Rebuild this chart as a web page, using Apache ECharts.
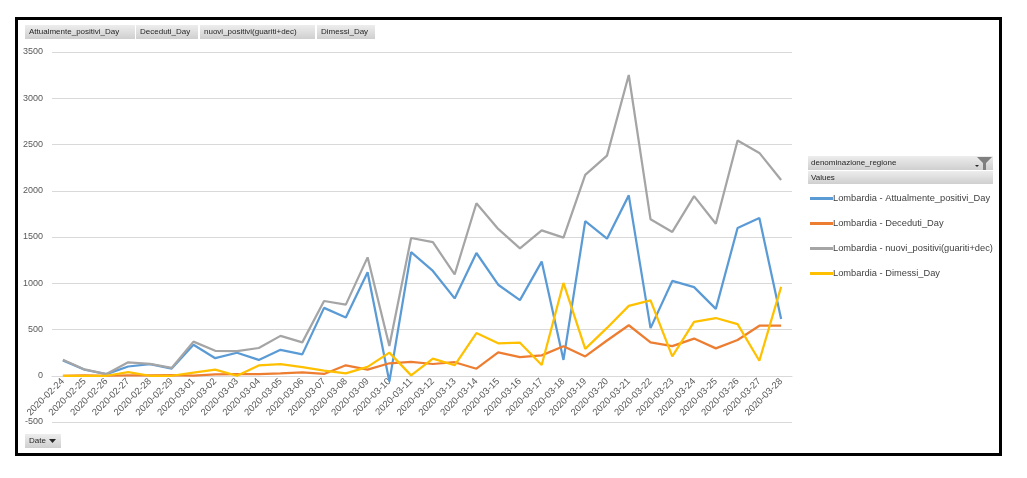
<!DOCTYPE html>
<html>
<head>
<meta charset="utf-8">
<script src="https://cdn.jsdelivr.net/npm/echarts@6/dist/echarts.min.js"></script>
<style>
  html, body { margin: 0; padding: 0; background: #fff; }
  #chart { width: 1027px; height: 478px; }
</style>
</head>
<body>
<div id="chart"></div>
<script>
var dates = ['2020-02-24','2020-02-25','2020-02-26','2020-02-27','2020-02-28','2020-02-29',
  '2020-03-01','2020-03-02','2020-03-03','2020-03-04','2020-03-05','2020-03-06','2020-03-07',
  '2020-03-08','2020-03-09','2020-03-10','2020-03-11','2020-03-12','2020-03-13','2020-03-14',
  '2020-03-15','2020-03-16','2020-03-17','2020-03-18','2020-03-19','2020-03-20','2020-03-21',
  '2020-03-22','2020-03-23','2020-03-24','2020-03-25','2020-03-26','2020-03-27','2020-03-28'];

var attualmente = [166,65,18,100,125,78,335,190,249,171,280,231,734,630,1118,-63,1336,1133,836,1327,
  984,818,1234,171,1672,1482,1950,515,1025,958,723,1598,1706,614];
var deceduti = [0,3,0,5,3,6,1,14,17,18,25,37,19,113,66,135,149,127,146,76,
  252,202,220,319,209,381,546,361,320,402,296,387,541,542];
var nuovi = [172,68,18,145,128,84,369,270,266,300,431,361,808,769,1280,322,1489,1445,1095,1865,
  1587,1377,1571,1493,2171,2380,3251,1691,1555,1942,1643,2543,2409,2117];
var dimessi = [0,0,0,40,0,0,33,66,0,111,126,93,55,26,96,250,4,185,113,462,
  351,357,117,1003,290,517,755,815,210,582,624,558,162,961];

var seriesNames = ['Lombardia - Attualmente_positivi_Day','Lombardia - Deceduti_Day',
  'Lombardia - nuovi_positivi(guariti+dec)','Lombardia - Dimessi_Day'];
var fieldButtons = ['Attualmente_positivi_Day','Deceduti_Day','nuovi_positivi(guariti+dec)','Dimessi_Day'];
var colors = ['#5B9BD5','#ED7D31','#A5A5A5','#FFC000'];

var font = "'Liberation Sans', Arial, sans-serif";
var btnFill = new echarts.graphic.LinearGradient(0, 0, 0, 1, [
  {offset: 0, color: '#EDEDED'}, {offset: 1, color: '#CFCFCF'}]);

// pivot field buttons across the top
var btnX = [25, 136, 200, 317], btnW = [110, 62, 115, 58];
var graphics = [];
fieldButtons.forEach(function(t, i){
  graphics.push({type:'rect', shape:{x:btnX[i], y:25, width:btnW[i], height:14},
    style:{fill:btnFill, stroke:'none'}});
  graphics.push({type:'text', x:btnX[i]+4, y:32,
    style:{text:t, fill:'#262626', font:'8px ' + font, textVerticalAlign:'middle'}});
});
// Date button
graphics.push({type:'rect', shape:{x:25, y:434, width:36, height:14}, style:{fill:btnFill}});
graphics.push({type:'text', x:29, y:441, style:{text:'Date', fill:'#262626', font:'8px ' + font, textVerticalAlign:'middle'}});
graphics.push({type:'polygon', shape:{points:[[49,439],[56,439],[52.5,443]]}, style:{fill:'#262626'}});
// legend header bars
graphics.push({type:'rect', shape:{x:808, y:156, width:185, height:14}, style:{fill:btnFill}});
graphics.push({type:'text', x:811, y:163, style:{text:'denominazione_regione', fill:'#262626', font:'8px ' + font, textVerticalAlign:'middle'}});
graphics.push({type:'polygon', shape:{points:[[975,165],[979,165],[977,167]]}, style:{fill:'#262626'}});
graphics.push({type:'polygon', shape:{points:[[977,157],[992,157],[986,163],[986,170],[983,170],[983,163]]}, style:{fill:'#7F7F7F'}});
graphics.push({type:'rect', shape:{x:808, y:171, width:185, height:13}, style:{fill:btnFill}});
graphics.push({type:'text', x:811, y:177.5, style:{text:'Values', fill:'#262626', font:'8px ' + font, textVerticalAlign:'middle'}});
// outer frame
graphics.push({type:'rect', shape:{x:16.5, y:18.5, width:984, height:436},
  style:{fill:'none', stroke:'#000', lineWidth:3}});

var chart = echarts.init(document.getElementById('chart'));
var option = {
  animation: false,
  color: colors,
  graphic: graphics,
  grid: {left: 52, right: 235, top: 52, bottom: 56},
  legend: {
    orient: 'vertical', left: 805, top: 189, itemGap: 16,
    itemWidth: 23, itemHeight: 3, icon: 'rect',
    textStyle: {color: '#404040', fontSize: 9.3, fontFamily: font, padding: [0,0,0,-5]},
    data: seriesNames
  },
  xAxis: {
    type: 'category', data: dates, boundaryGap: true,
    offset: -46.2,
    axisLine: {onZero: false, lineStyle: {color: '#D9D9D9'}},
    axisTick: {show: false},
    axisLabel: {rotate: 45, color: '#595959', fontSize: 9.5, fontFamily: font, margin: 4, interval: 0}
  },
  yAxis: {
    type: 'value', min: -500, max: 3500, interval: 500,
    axisLine: {show: false}, axisTick: {show: false},
    axisLabel: {color: '#595959', fontSize: 9, fontFamily: font, margin: 9,
      formatter: function(v){ return String(v); }},
    splitLine: {lineStyle: {color: '#D9D9D9', width: 1}}
  },
  series: [
    {name: seriesNames[0], type: 'line', data: attualmente},
    {name: seriesNames[1], type: 'line', data: deceduti},
    {name: seriesNames[2], type: 'line', data: nuovi},
    {name: seriesNames[3], type: 'line', data: dimessi}
  ].map(function(s){
    s.showSymbol = false; s.symbol = 'none';
    s.lineStyle = {width: 2.25};
    return s;
  })
};
chart.setOption(option);
</script>
</body>
</html>
